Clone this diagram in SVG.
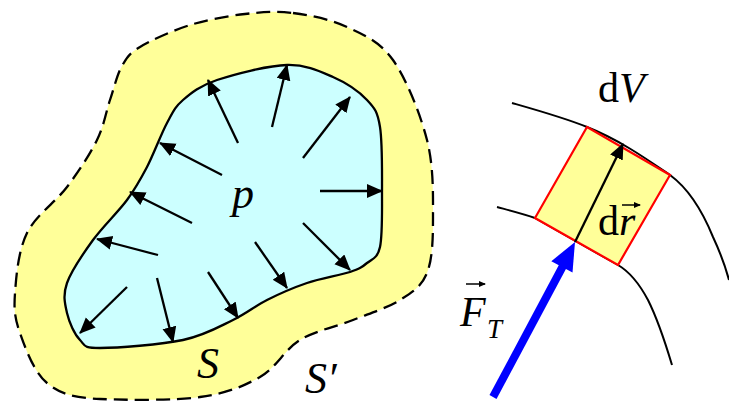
<svg xmlns="http://www.w3.org/2000/svg" width="729" height="402" viewBox="0 0 729 402">
<style>
.t{font-family:"Liberation Serif","DejaVu Serif",serif;fill:#000}
.i{font-style:italic}
.arr{stroke:#000;stroke-width:2.3;fill:none;marker-end:url(#ah)}
.crv{stroke:#000;stroke-width:2;fill:none}
</style>
<defs>
<marker id="ah" markerUnits="userSpaceOnUse" markerWidth="18" markerHeight="16" refX="15" refY="7" orient="auto">
<path d="M0,0 L16,7 L0,14 Z" fill="#000"/>
</marker>
<marker id="sh" markerUnits="userSpaceOnUse" markerWidth="9" markerHeight="8" refX="6" refY="3" orient="auto">
<path d="M0,0 L7,3 L0,6 Z" fill="#000"/>
</marker>
</defs>
<g id="outer-surface">
<path d="M293,13 C310,15.2 330.3,19.2 347,27 C363.7,34.8 379.7,41.2 393,60 C406.3,78.8 420.3,113.8 427,140 C433.7,166.2 433,194.8 433,217 C433,239.2 432.5,259.2 427,273 C421.5,286.8 412.3,292.2 400,300 C387.7,307.8 369.7,313.3 353,320 C336.3,326.7 315.5,330.5 300,340 C284.5,349.5 276.7,367.5 260,377 C243.3,386.5 226.7,393.2 200,397 C173.3,400.8 125.5,400 100,399 C74.5,397.7 60.3,394.2 47,383 C33.7,371.8 25.3,348 20,333 C14.7,318 13.8,309.7 15,293 C16.2,276.3 18.3,250.7 27,233 C35.7,215.3 55.3,202.5 67,187 C78.7,171.5 89.8,154.5 97,140 C104.2,125.5 105.8,112.3 110,100 C114.2,87.7 117,74.8 122,66 C127,57.2 128.7,53.8 140,47 C151.3,40.2 172.5,30.5 190,25 C207.5,19.5 227.8,16 245,14 C262.2,12 276,10.8 293,13 Z" fill="#ffff99" stroke="#000" stroke-width="2.3" stroke-dasharray="14,7"/>
</g>
<g id="inner-surface">
<path d="M287,65 C306.3,64.5 319.7,71.2 333,77 C346.3,82.8 359.2,91.7 367,100 C374.8,108.3 377.5,111.5 380,127 C382.5,142.5 382,173 382,193 C382,213 382.5,235.3 380,247 C377.5,258.7 372,258.8 367,263 C362,267.2 360,268.7 350,272 C340,275.3 320.8,278.3 307,283 C293.2,287.7 279.3,293.8 267,300 C254.7,306.2 247,313.3 233,320 C219,326.7 205.2,335.3 183,340 C160.8,344.7 117.2,348 100,348 C82.8,348 85.5,345.8 80,340 C74.5,334.2 69.2,322.5 67,313 C64.8,303.5 62.7,295.2 67,283 C71.3,270.8 83,253.8 93,240 C103,226.2 118,212.2 127,200 C136,187.8 140.3,179.8 147,167 C153.7,154.2 161,134.2 167,123 C173,111.8 174.7,107.2 183,100 C191.3,92.8 199.7,85.8 217,80 C234.3,74.2 267.7,65.5 287,65 Z" fill="#ccffff" stroke="#000" stroke-width="2.3"/>
</g>
<g id="pressure-arrows">
<line class="arr" x1="272" y1="127" x2="287" y2="65"/>
<line class="arr" x1="238" y1="143" x2="208" y2="80"/>
<line class="arr" x1="303" y1="158" x2="350" y2="97"/>
<line class="arr" x1="222" y1="175" x2="160" y2="143"/>
<line class="arr" x1="320" y1="191" x2="382" y2="191"/>
<line class="arr" x1="192" y1="223" x2="130" y2="192"/>
<line class="arr" x1="303" y1="223" x2="350" y2="270"/>
<line class="arr" x1="158" y1="255" x2="97" y2="239"/>
<line class="arr" x1="255" y1="242" x2="287" y2="288"/>
<line class="arr" x1="208" y1="272" x2="238" y2="318"/>
<line class="arr" x1="157" y1="278" x2="173" y2="342"/>
<line class="arr" x1="127" y1="287" x2="80" y2="333"/>
</g>
<g id="labels-left">
<text class="t i" x="232" y="208" font-size="44">p</text>
<text class="t i" x="197" y="378" font-size="44">S</text>
<text class="t i" x="305" y="393" font-size="44">S′</text>
</g>
<g id="streamlines">
<path class="crv" d="M512,103 C540,111 565,118 587,127 C620,140 648,160 670,175 C685,186 700,205 713,237 C720,252 725,265 729,280"/>
<path class="crv" d="M497,207 C512,211 524,214 535,218 L618,265 C630,272 640,285 648,300 C658,320 666,345 672,365"/>
</g>
<g id="volume-element">
<polygon points="587,127 670,175 618,265 535,218" fill="#ffff99" stroke="#ff0000" stroke-width="2.2"/>
<line class="arr" x1="575" y1="242" x2="623" y2="144"/>
</g>
<g id="force-arrow">
<line x1="493" y1="397" x2="564" y2="264" stroke="#0000ff" stroke-width="8"/>
<polygon points="575,242 572.5,272.4 551.3,261.2" fill="#0000ff"/>
</g>
<g id="labels-right">
<text class="t" x="598" y="102" font-size="42">d<tspan class="i">V</tspan></text>
<text class="t" x="598" y="235" font-size="42">d<tspan class="i">r</tspan></text>
<line x1="622" y1="205" x2="640" y2="205" stroke="#000" stroke-width="1.5" marker-end="url(#sh)"/>
<text class="t i" x="460" y="326" font-size="42">F</text>
<text class="t i" x="487" y="338" font-size="27">T</text>
<line x1="466" y1="284" x2="485" y2="284" stroke="#000" stroke-width="1.5" marker-end="url(#sh)"/>
</g>
</svg>
